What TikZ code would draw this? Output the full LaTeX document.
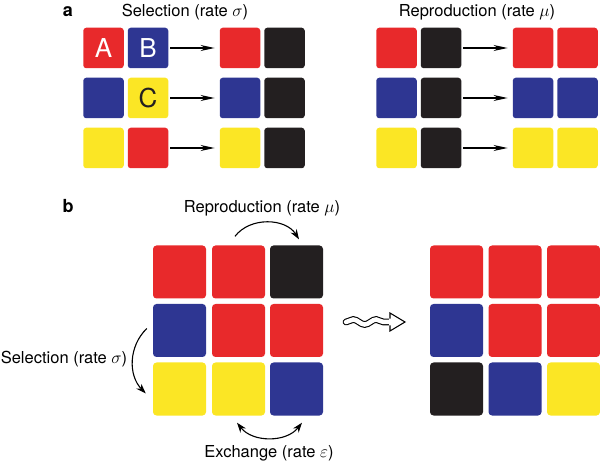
\documentclass[tikz,border=0pt]{standalone}
\usepackage{fontspec}
\setmainfont{TeX Gyre Heros}
\usetikzlibrary{positioning, arrows.meta, decorations.pathmorphing}

\definecolor{tred}{HTML}{E8292B}
\definecolor{tblue}{HTML}{2E3692}
\definecolor{tyellow}{HTML}{FBE625}
\definecolor{tblack}{HTML}{231F20}

\tikzset{
  tile/.style={fill=#1, minimum size=40.5pt, inner sep=0pt, rounded corners=3pt},
  bigtile/.style={fill=#1, minimum size=53pt, inner sep=0pt, rounded corners=3.5pt},
  lbl/.style={font=\fontsize{16.5}{19}\selectfont, anchor=base, inner sep=0pt},
  panel/.style={font=\fontsize{18}{20}\selectfont\bfseries, anchor=base, inner sep=0pt},
  movearrow/.style={-{Stealth[length=14pt,width=6pt]}, line width=1.1pt, shorten <=2pt, shorten >=5pt},
  bendarrow/.style={-{Stealth[length=10pt,width=7pt]}, line width=1.1pt}
}

\begin{document}
\begin{tikzpicture}[x=1pt, y=-1pt]
\useasboundingbox (0,0) rectangle (600,462);

% panel a
\node[panel] (pa) at (68,17) {a};
\node[lbl] (ttlsel) at (185,17) {Selection (rate $\sigma$)};
\node[lbl] (ttlrep) at (477,17) {Reproduction (rate $\mu$)};

% selection rows: two tiles, arrow, two tiles
\foreach \r/\ca/\cb/\cc in {1/tred/tblue/tred, 2/tblue/tyellow/tblue, 3/tyellow/tred/tyellow} {
  \node[tile=\ca] (sel\r a) at (103.5,50*\r-2) {};
  \node[tile=\cb] (sel\r b) at (148,50*\r-2) {};
  \node[tile=\cc] (selout\r a) at (240,50*\r-2) {};
  \node[tile=tblack] (selout\r b) at (284.5,50*\r-2) {};
  \draw[movearrow] (sel\r b) -- (selout\r a);
}
\node[font=\fontsize{26}{28}\selectfont, text=white] (letA) at (sel1a) {A};
\node[font=\fontsize{26}{28}\selectfont, text=white] (letB) at (sel1b) {B};
\node[font=\fontsize{26}{28}\selectfont, text=tblack] (letC) at (sel2b) {C};

% reproduction rows
\foreach \r/\ca in {1/tred, 2/tblue, 3/tyellow} {
  \node[tile=\ca] (rep\r a) at (396.5,50*\r-2) {};
  \node[tile=tblack] (rep\r b) at (441,50*\r-2) {};
  \node[tile=\ca] (repout\r a) at (533,50*\r-2) {};
  \node[tile=\ca] (repout\r b) at (577.5,50*\r-2) {};
  \draw[movearrow] (rep\r b) -- (repout\r a);
}

% panel b
\node[panel] (pb) at (68,213) {b};

% grid before
\foreach \r/\ca/\cb/\cc in {1/tred/tred/tblack, 2/tblue/tred/tred, 3/tyellow/tyellow/tblue} {
  \node[bigtile=\ca] (b\r1) at (179.5,213.5+58.5*\r) {};
  \node[bigtile=\cb] (b\r2) at (238.5,213.5+58.5*\r) {};
  \node[bigtile=\cc] (b\r3) at (296.5,213.5+58.5*\r) {};
}

% grid after
\foreach \r/\ca/\cb/\cc in {1/tred/tred/tred, 2/tblue/tred/tred, 3/tblack/tblue/tyellow} {
  \node[bigtile=\ca] (c\r1) at (456.5,213.5+58.5*\r) {};
  \node[bigtile=\cb] (c\r2) at (515,213.5+58.5*\r) {};
  \node[bigtile=\cc] (c\r3) at (573.5,213.5+58.5*\r) {};
}

% curved arrows and their labels
\node[lbl] (ttlrepb) at (262,213) {Reproduction (rate $\mu$)};
\draw[bendarrow] ([shift={(-3.5,-9)}]b12.north) to[bend left=55] ([shift={(2.5,-6)}]b13.north);

\node[lbl] (ttlselb) at (64,363) {Selection (rate $\sigma$)};
\draw[bendarrow] ([shift={(-6,-2)}]b21.west) to[bend right=45] ([shift={(-7,4.5)}]b31.west);

\node[lbl] (ttlexb) at (269,457) {Exchange (rate $\varepsilon$)};
\draw[bendarrow, {Stealth[length=10pt,width=7pt]}-{Stealth[length=10pt,width=7pt]}] ([shift={(-1.5,7)}]b32.south) to[bend right=52] ([shift={(5.5,7)}]b33.south);

% wavy outline arrow
\coordinate (w1) at (346,322);
\coordinate (w2) at (392,322);
\draw[line width=1.1pt, double=white, double distance=4.5pt, line cap=round,
  decorate, decoration={snake, amplitude=2.5pt, segment length=23pt}] (w1) -- (w2);
\fill[white] (389,312) -- (405,322) -- (389,332) -- cycle;
\draw[line width=1.1pt, line join=miter] ([shift={(-2,-3.4)}]w2) -- ([shift={(-2,-9)}]w2) -- (405,322) -- ([shift={(-2,9)}]w2) -- ([shift={(-2,3.4)}]w2);

\end{tikzpicture}
\end{document}
